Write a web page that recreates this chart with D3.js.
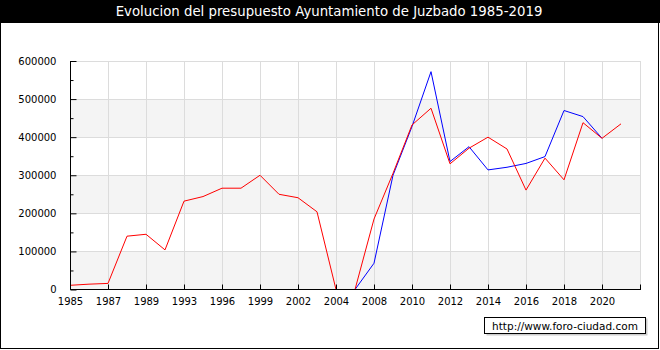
<!DOCTYPE html>
<html>
<head>
<meta charset="utf-8">
<script src="https://cdn.jsdelivr.net/npm/d3@7"></script>
<style>
  body { margin: 0; background: #fff; }
  svg { display: block; font-family: "DejaVu Sans", Verdana, sans-serif; }
</style>
</head>
<body>
<div id="chart"></div>
<script>
// years on the x axis (categorical, one slot each)
const years = [1985, 1986, 1987, 1988, 1989, 1991, 1993, 1995, 1996, 1998,
    1999, 2000, 2002, 2003, 2004, 2006, 2008, 2009, 2010, 2011,
    2012, 2013, 2014, 2015, 2016, 2017, 2018, 2019, 2020, 2021];

// red series
const ingresos = [11000, 14000, 16000, 140000, 145000, 104000, 232000, 244000, 266000, 266000,
    300000, 250000, 241000, 204000, 0, 0, 185000, 305000, 432000, 476000,
    330000, 371000, 400000, 369000, 261000, 345000, 288000, 438000, 397000, 435000];

// blue series (starts later)
const gastos = [null, null, null, null, null, null, null, null, null, null,
    null, null, null, null, null, 0, 69000, 300000, 428000, 572000,
    336000, 375000, 314000, 321000, 331000, 349000, 470000, 454000, 397000, null];

const yTicks = [0, 100000, 200000, 300000, 400000, 500000, 600000];

const width = 660, height = 350;
const plotLeft = 70, plotRight = 640, plotTop = 61, plotBottom = 289.5;

const svg = d3.select("#chart").append("svg")
    .attr("width", width)
    .attr("height", height);

const x = d3.scaleLinear().domain([0, years.length]).range([plotLeft, plotRight]);
const y = d3.scaleLinear().domain([0, 600000]).range([plotBottom, plotTop]);

// title bar
svg.append("rect").attr("x", 0).attr("y", 0).attr("width", width).attr("height", 23).attr("fill", "#000");
svg.append("text")
    .attr("x", 329).attr("y", 16)
    .attr("text-anchor", "middle")
    .attr("fill", "#fff")
    .attr("font-size", "13.3px")
    .text("Evolucion del presupuesto Ayuntamiento de Juzbado 1985-2019");

// alternating bands
const bands = [[0, 100000], [200000, 300000], [400000, 500000]];
svg.selectAll("rect.band").data(bands).enter().append("rect")
    .attr("class", "band")
    .attr("x", plotLeft).attr("width", plotRight - plotLeft)
    .attr("y", d => y(d[1])).attr("height", d => y(d[0]) - y(d[1]))
    .attr("fill", "#f4f4f4");

// grid
const xTickIdx = d3.range(0, years.length + 1, 2);
svg.selectAll("line.hg").data(yTicks.slice(1)).enter().append("line")
    .attr("x1", plotLeft).attr("x2", plotRight)
    .attr("y1", d => Math.floor(y(d)) + 0.5).attr("y2", d => Math.floor(y(d)) + 0.5)
    .attr("stroke", "#dcdcdc");
svg.selectAll("line.vg").data(xTickIdx.slice(1)).enter().append("line")
    .attr("x1", d => Math.round(x(d)) + 0.5).attr("x2", d => Math.round(x(d)) + 0.5)
    .attr("y1", plotTop).attr("y2", plotBottom)
    .attr("stroke", "#dcdcdc");

// lines
const line = d3.line()
    .defined(d => d != null)
    .x((d, i) => x(i))
    .y(d => y(d));

svg.append("path").datum(gastos)
    .attr("d", line)
    .attr("fill", "none").attr("stroke", "#0000ff").attr("stroke-width", 1);
svg.append("path").datum(ingresos)
    .attr("d", line)
    .attr("fill", "none").attr("stroke", "#ff0000").attr("stroke-width", 1);

// y axis (ticks inside)
const yAxis = d3.axisLeft(y)
    .tickValues(d3.range(0, 600001, 50000))
    .tickSize(-6)
    .tickPadding(14)
    .tickFormat(d => d % 100000 === 0 ? d : "");
const gy = svg.append("g").attr("transform", `translate(${plotLeft + 0.5},0)`).call(yAxis);
gy.selectAll(".tick line").attr("x2", d => d % 100000 === 0 ? 6 : 3);
gy.select(".domain").attr("d", `M0,${plotTop}V${plotBottom}`);
gy.selectAll("text").attr("font-size", "10px").attr("font-family", "DejaVu Sans").attr("fill", "#000");

// x axis
const xAxis = d3.axisBottom(x)
    .tickValues(xTickIdx)
    .tickSize(-5)
    .tickPadding(8)
    .tickFormat(i => i < years.length - 1 ? years[i] : "");
const gx = svg.append("g").attr("transform", `translate(0,${plotBottom})`).call(xAxis);
gx.select(".domain").attr("d", `M${plotLeft},0H${plotRight + 1}`);
gx.selectAll("text").attr("font-size", "10px").attr("font-family", "DejaVu Sans").attr("fill", "#000");

// watermark
svg.append("rect").attr("x", 486.5).attr("y", 318.5).attr("width", 161).attr("height", 17).attr("fill", "#ccc");
svg.append("rect").attr("x", 484.5).attr("y", 317.5).attr("width", 161).attr("height", 16)
    .attr("fill", "#fff").attr("stroke", "#000");
svg.append("text")
    .attr("x", 565).attr("y", 329.5)
    .attr("text-anchor", "middle")
    .attr("font-size", "10.5px")
    .text("http://www.foro-ciudad.com");

// outer border
svg.append("rect").attr("x", 0.5).attr("y", 0.5).attr("width", 658).attr("height", 348)
    .attr("fill", "none").attr("stroke", "#000");
</script>
</body>
</html>
